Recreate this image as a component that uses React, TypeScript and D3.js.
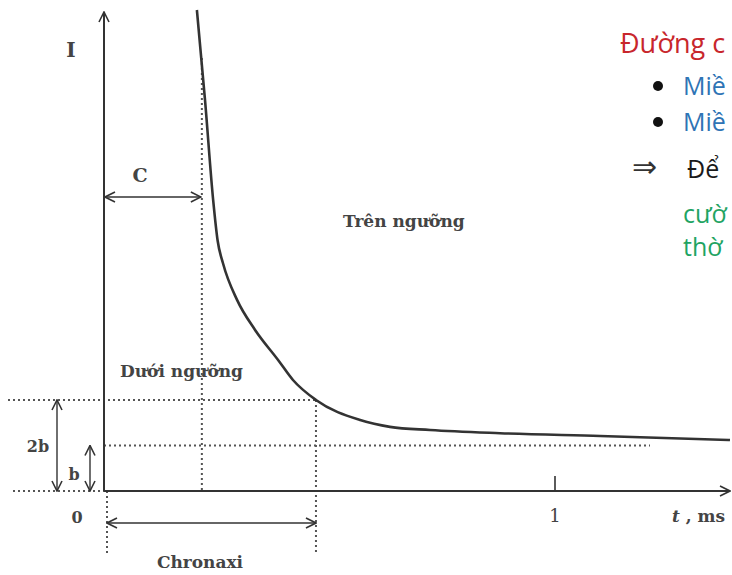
import React from 'react';
import * as d3 from 'd3';

// strength-duration curve, t in ms, I in units of rheobase b
const curveT = [0.206, 0.224, 0.242, 0.252, 0.264, 0.295, 0.335, 0.386, 0.419, 0.47, 0.568, 0.634, 0.723, 0.878, 1.1, 1.388];
const curveI = [10.57, 8.59, 6.4, 5.5, 5.0, 4.2, 3.54, 2.88, 2.44, 2.0, 1.56, 1.41, 1.34, 1.27, 1.21, 1.12];

const rheobase = 1;
const chronaxie = 0.47;
const cMark = 0.217;
const xTicks = [1];

// right-hand notes, cut by the picture edge as in the source slide
const noteTexts = ['Đường c', 'Miề', 'Miề', 'Để', 'cườ', 'thờ'];
const noteColors = ['#c8262c', '#2e74b5', '#2e74b5', '#1a1a1a', '#1fa463', '#1fa463'];
const noteMarks = ['', '•', '•', '⇒', '', ''];

const W = 732;
const H = 575;
const ink = '#333';
const labelInk = '#444';
const serif = '"DejaVu Serif", "Liberation Serif", serif';
const sans = '"Open Sans", "Noto Sans", sans-serif';

const App = () => {
  const x = d3.scaleLinear().domain([0, 1]).range([104, 555]);
  const y = d3.scaleLinear().domain([0, 2]).range([491, 400]);

  const line = d3.line<number>()
    .x((_, i) => x(curveT[i]))
    .y(d => y(d))
    .curve(d3.curveMonotoneX);

  const dots = { stroke: '#555', strokeWidth: 2, strokeDasharray: '2 3', fill: 'none' };
  const x0 = x(0);
  const y0 = y(0);

  const noteY = [53, 95, 131, 178, 223, 256];

  return (
    <svg width={W} height={H} style={{ position: 'absolute', left: 0, top: 0, background: '#fff' }}>
      <defs>
        <marker id="arr" viewBox="0 0 12 12" refX="11" refY="6" markerWidth="12" markerHeight="12"
          markerUnits="userSpaceOnUse" orient="auto-start-reverse">
          <path d="M1,1 L11,6 L1,11" fill="none" stroke={ink} strokeWidth={1.6} />
        </marker>
      </defs>

      {/* dotted guide lines */}
      <line x1={8} x2={x(chronaxie)} y1={y(2 * rheobase)} y2={y(2 * rheobase)} {...dots} />
      <line x1={x0} x2={650} y1={y(rheobase)} y2={y(rheobase)} {...dots} />
      <line x1={13} x2={x0} y1={y0} y2={y0} {...dots} />
      <line x1={x(cMark)} x2={x(cMark)} y1={58} y2={y0} {...dots} />
      <line x1={x(chronaxie)} x2={x(chronaxie)} y1={y(2 * rheobase)} y2={553} {...dots} />
      <line x1={x0 + 3} x2={x0 + 3} y1={y0} y2={553} {...dots} />

      {/* axes */}
      <line x1={x0} x2={x0} y1={y0} y2={12} stroke={ink} strokeWidth={2} markerEnd="url(#arr)" />
      <line x1={x0} x2={730} y1={y0} y2={y0} stroke={ink} strokeWidth={2} markerEnd="url(#arr)" />
      {xTicks.map(t => (
        <g key={t}>
          <line x1={x(t)} x2={x(t)} y1={y0} y2={y0 - 15} stroke={ink} strokeWidth={1.6} />
          <text x={x(t)} y={522} textAnchor="middle" fontFamily={serif} fontSize={18} fill={labelInk}>{t}</text>
        </g>
      ))}

      {/* curve */}
      <path d={line(curveI) ?? ''} fill="none" stroke={ink} strokeWidth={2.6} />

      {/* dimension arrows */}
      <line x1={x0 + 1} x2={x(cMark) - 1} y1={197} y2={197} stroke={ink} strokeWidth={1.4}
        markerStart="url(#arr)" markerEnd="url(#arr)" />
      <line x1={57} x2={57} y1={y(2 * rheobase)} y2={y0} stroke={ink} strokeWidth={1.4}
        markerStart="url(#arr)" markerEnd="url(#arr)" />
      <line x1={90} x2={90} y1={y(rheobase)} y2={y0} stroke={ink} strokeWidth={1.4}
        markerStart="url(#arr)" markerEnd="url(#arr)" />
      <line x1={x0 + 3} x2={x(chronaxie)} y1={523} y2={523} stroke={ink} strokeWidth={1.4}
        markerStart="url(#arr)" markerEnd="url(#arr)" />

      {/* labels */}
      <g fontFamily={serif} fill={labelInk} fontWeight="bold">
        <text x={71} y={57} fontSize={20} textAnchor="middle">I</text>
        <text x={140} y={182} fontSize={19} textAnchor="middle">C</text>
        <text x={343} y={227} fontSize={17}>Trên ngưỡng</text>
        <text x={120} y={377} fontSize={17}>Dưới ngưỡng</text>
        <text x={38} y={452} fontSize={16} textAnchor="middle">2b</text>
        <text x={74} y={480} fontSize={16} textAnchor="middle">b</text>
        <text x={77} y={523} fontSize={16} textAnchor="middle">0</text>
        <text x={200} y={568} fontSize={17} textAnchor="middle">Chronaxi</text>
        <text x={672} y={522} fontSize={17}>
          <tspan fontStyle="italic">t</tspan> , ms
        </text>
      </g>

      {/* side notes */}
      <g fontFamily={sans}>
        {noteTexts.map((txt, i) => (
          <g key={i}>
            {noteMarks[i] === '•' && <circle cx={658} cy={noteY[i] - 9} r={5} fill="#111" />}
            {noteMarks[i] === '⇒' && (
              <text x={632} y={noteY[i] - 1} fontSize={30} fill="#333" fontFamily='"DejaVu Sans", sans-serif'>⇒</text>
            )}
            <text x={i === 0 ? 620 : i === 3 ? 687 : 683} y={noteY[i]} fontSize={i === 0 ? 27 : 25}
              fill={noteColors[i]}>{txt}</text>
          </g>
        ))}
      </g>
    </svg>
  );
};

export default App;
